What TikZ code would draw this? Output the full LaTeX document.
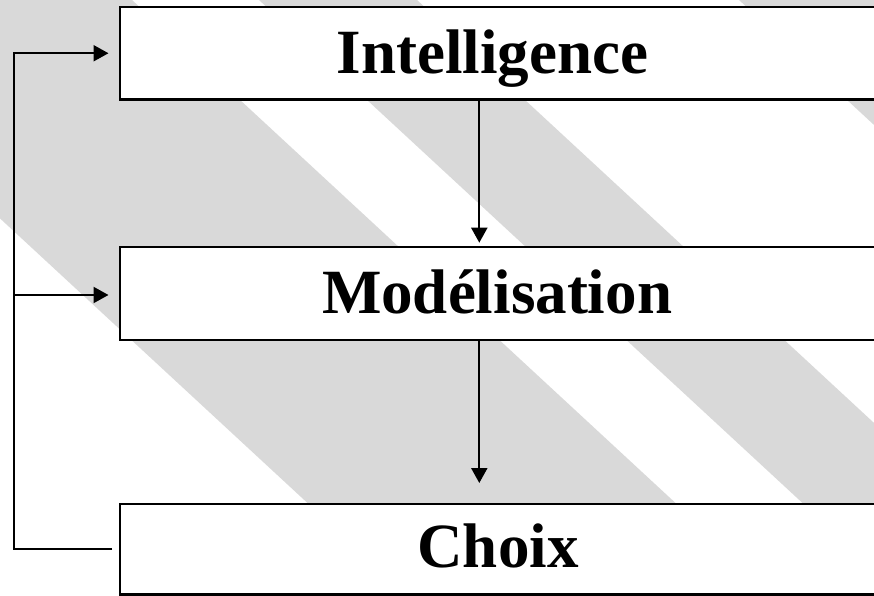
\documentclass[tikz,border=0pt]{standalone}
\usepackage{fontspec}
\setmainfont{Liberation Serif}
\usetikzlibrary{arrows.meta,calc}
\definecolor{stripe}{HTML}{D9D9D9}
\begin{document}
\begin{tikzpicture}[x=1pt,y=-1pt,
  boxst/.style={draw=black,line width=2.3pt,fill=white,rectangle,outer sep=0pt,inner sep=0pt,anchor=north west,minimum width=780pt},
  lbl/.style={anchor=base,inner sep=0pt,font=\bfseries\fontsize{63}{63}\selectfont},
  wire/.style={draw=black,line width=2.2pt},
  arr/.style={wire,-{Triangle[length=15pt,width=16pt]}}]
\useasboundingbox (0,0) rectangle (874,596);
\begin{scope}
\clip (0,0) rectangle (874,596);
\fill[white] (0,0) rectangle (874,596);
\fill[stripe] (-236,0) -- (132,0) -- (776,596) -- (408,596) -- cycle;
\fill[stripe] (259,0) -- (417,0) -- (1061,596) -- (903,596) -- cycle;
\fill[stripe] (739,0) -- (1200,0) -- (1844,596) -- (1383,596) -- cycle;
\end{scope}
% boxes
\node[boxst,minimum height=92.5pt] (intel) at (120,7) {};
\node[boxst,minimum height=93pt] (modl) at (120,247) {};
\node[boxst,minimum height=90.5pt] (choix) at (120,504) {};
% labels
\node[lbl] (intelT) at (492.5,73.3) {Intelligence};
\node[lbl] (modlT) at (497,313.3) {Modélisation};
\node[lbl] (choixT) at (498,567.5) {Choix};
% connectors
\coordinate (ax) at (479.3,0);
\coordinate (loop) at (14.3,0);
\draw[arr,shorten >=4.3pt] (intel.south -| ax) -- (modl.north -| ax);
\draw[arr,shorten >=21pt] (modl.south -| ax) -- (choix.north -| ax);
\draw[arr] ([xshift=-8pt]choix.west) -- (choix.west -| loop) |- ([xshift=-11.5pt]intel.west);
\draw[arr] ([yshift=-1.5pt]modl.west -| loop) -- ([xshift=-11.5pt,yshift=-1.5pt]modl.west);
\end{tikzpicture}
\end{document}
